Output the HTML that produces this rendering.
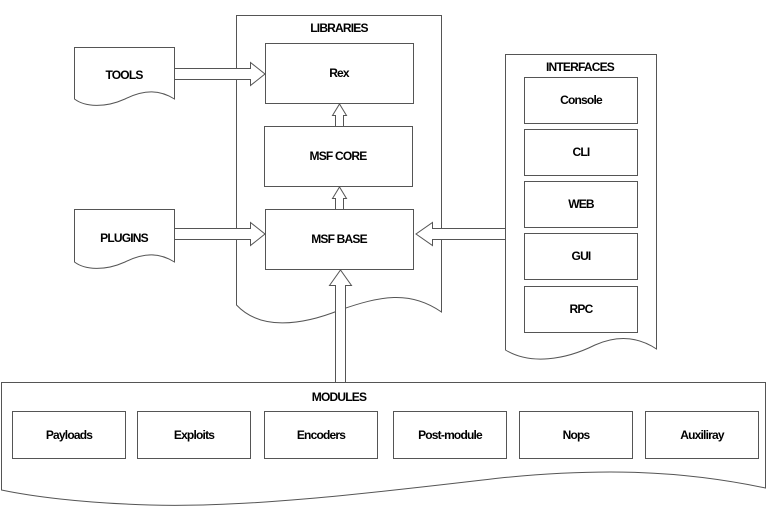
<!DOCTYPE html>
<html><head><meta charset="utf-8"><style>
html,body{margin:0;padding:0;background:#fff;width:767px;height:508px;overflow:hidden}
svg text{font-family:"Liberation Sans",sans-serif;font-weight:bold;font-size:12px;letter-spacing:-0.8px;fill:#000;text-anchor:middle}
</style></head><body>
<svg width="767" height="508" viewBox="0 0 767 508" xmlns="http://www.w3.org/2000/svg">
<g fill="#fff" stroke="#555" stroke-width="1">
<!-- Libraries -->
<path d="M236.5,15.5 H441.5 V312 C410,290 380,296 340,310 C300,326 260,330 236.5,305 Z"/>
<!-- Interfaces -->
<path d="M505.5,54.5 H656.5 V349 C640,338 620,334 595,345 C565,360 530,365 505.5,350 Z"/>
<!-- Tools -->
<path d="M74.5,47.5 H174.5 V99 C160,90 145,89 125,99 C105,108 85,107 74.5,99 Z"/>
<!-- Plugins -->
<path d="M74.5,209.5 H174.5 V262 C160,253 145,252 125,262 C105,271 85,270 74.5,262 Z"/>
<!-- Modules -->
<path d="M1.5,382.5 H765.5 V488 C680,470 600,468 500,478 C380,492 250,508 150,505 C80,503 30,496 1.5,490 Z"/>
<!-- boxes -->
<rect x="265.5" y="43.5" width="148" height="60"/>
<rect x="264.5" y="126.5" width="148" height="60"/>
<rect x="265.5" y="209.5" width="148" height="60"/>
<rect x="524.5" y="77.5" width="113" height="46"/>
<rect x="524.5" y="129.5" width="113" height="46"/>
<rect x="524.5" y="181.5" width="113" height="46"/>
<rect x="524.5" y="233.5" width="113" height="46"/>
<rect x="524.5" y="286.5" width="113" height="46"/>
<rect x="12.5" y="411.5" width="113" height="47"/>
<rect x="137.5" y="411.5" width="113" height="47"/>
<rect x="264.5" y="411.5" width="113" height="47"/>
<rect x="393.5" y="411.5" width="113" height="47"/>
<rect x="519.5" y="411.5" width="113" height="47"/>
<rect x="645.5" y="411.5" width="113" height="47"/>
<!-- arrows -->
<path d="M175,68.5 H250.5 V62.5 L265,74 L250.5,85.5 V79.5 H175"/>
<path d="M175,228.5 H250.5 V222.5 L265,234 L250.5,245.5 V239.5 H175"/>
<path d="M505,228.5 H432.5 V222.5 L416,234 L432.5,245.5 V239.5 H505"/>
<path d="M335.5,382 V285.5 H329.5 L340.5,270 L351.5,285.5 H345.5 V382"/>
<path d="M335.5,126 V115.5 H332.5 L339.5,104 L346.5,115.5 H343.5 V126"/>
<path d="M335.5,209 V198.5 H332.5 L339.5,187 L346.5,198.5 H343.5 V209"/>
</g>
<text x="339" y="32">LIBRARIES</text>
<text x="580" y="71">INTERFACES</text>
<text x="339" y="401">MODULES</text>
<text x="124" y="79">TOOLS</text>
<text x="124" y="242">PLUGINS</text>
<text x="339" y="77">Rex</text>
<text x="338" y="160">MSF CORE</text>
<text x="339" y="243">MSF BASE</text>
<text x="581" y="104">Console</text>
<text x="581" y="156">CLI</text>
<text x="581" y="208">WEB</text>
<text x="581" y="260">GUI</text>
<text x="581" y="313">RPC</text>
<text x="69" y="439">Payloads</text>
<text x="194" y="439">Exploits</text>
<text x="321" y="439">Encoders</text>
<text x="450" y="439">Post-module</text>
<text x="576" y="439">Nops</text>
<text x="702" y="439">Auxiliray</text>
</svg>
</body></html>
